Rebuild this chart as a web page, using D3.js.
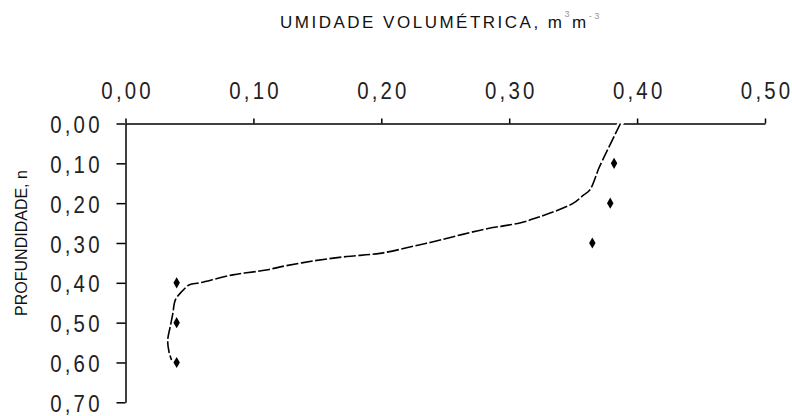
<!DOCTYPE html>
<html>
<head>
<meta charset="utf-8">
<script src="https://cdn.jsdelivr.net/npm/d3@7"></script>
<style>
  html, body { margin: 0; padding: 0; background: #fff; }
  svg { display: block; }
  .tick text { font-family: "Liberation Sans", Arial, sans-serif; font-size: 24px; fill: #222; }
  .axis path, .axis line { stroke: #000; stroke-width: 1.5; }
</style>
</head>
<body>
<svg id="chart" width="792" height="416"></svg>
<script>
// Volumetric water content (m3/m3) versus depth (m)
const xTicks = [0, 0.1, 0.2, 0.3, 0.4, 0.5];
const yTicks = [0, 0.1, 0.2, 0.3, 0.4, 0.5, 0.6, 0.7];

// measured points
const obsDepth = [0.10, 0.20, 0.30, 0.40, 0.50, 0.60];
const obsTheta = [0.382, 0.379, 0.365, 0.040, 0.040, 0.040];

// fitted profile
const fitDepth = [0.000, 0.092, 0.113, 0.167, 0.180, 0.196, 0.207, 0.234, 0.249, 0.266, 0.298, 0.303, 0.326, 0.334, 0.345, 0.360, 0.368, 0.380, 0.400, 0.405, 0.422, 0.443, 0.477, 0.510, 0.544, 0.573, 0.594];
const fitTheta = [0.387, 0.373, 0.370, 0.363, 0.358, 0.352, 0.346, 0.324, 0.309, 0.280, 0.239, 0.232, 0.199, 0.173, 0.147, 0.121, 0.110, 0.084, 0.058, 0.050, 0.044, 0.039, 0.037, 0.035, 0.033, 0.034, 0.036];

const fmt = d => d3.format(".2f")(d).replace(".", ",");

const svg = d3.select("#chart");
const margin = { left: 125.5, right: 27, top: 123.5, bottom: 13.7 };
const W = 792, H = 416;
const squeeze = 0.85;   // narrow the tick-label glyphs
const labelLen = 58;    // spread tick-label glyphs over this width (before squeeze)

const x = d3.scaleLinear().domain([0, 0.5]).range([margin.left, W - margin.right]);
const y = d3.scaleLinear().domain([0, 0.7]).range([margin.top, H - margin.bottom]);

// top axis
const gx = svg.append("g").attr("class", "axis")
  .attr("transform", `translate(0,${y(0)})`)
  .call(d3.axisTop(x).tickValues(xTicks).tickFormat(fmt).tickSize(5).tickPadding(20).tickSizeOuter(0));
gx.selectAll(".tick text")
  .attr("transform", `scale(${squeeze},1)`)
  .attr("textLength", labelLen).attr("lengthAdjust", "spacing");

// left axis
const gy = svg.append("g").attr("class", "axis")
  .attr("transform", `translate(${x(0)},0)`)
  .call(d3.axisLeft(y).tickValues(yTicks).tickFormat(fmt).tickSize(9).tickPadding(12).tickSizeOuter(0));
gy.selectAll(".tick text")
  .attr("transform", `scale(${squeeze},1)`)
  .attr("x", -26 / squeeze)
  .attr("dy", "0.38em")
  .attr("textLength", labelLen).attr("lengthAdjust", "spacing");

// axis titles
const title = svg.append("text")
  .attr("x", 280).attr("y", 28)
  .attr("font-family", "Liberation Sans, Arial, sans-serif")
  .attr("font-size", 17).attr("letter-spacing", "2.5px").attr("fill", "#111");
title.append("tspan").text("UMIDADE VOLUMÉTRICA, m");
title.append("tspan").attr("dy", -11).attr("font-size", 9).attr("fill", "#999").text("3");
title.append("tspan").attr("dy", 11).text("m");
title.append("tspan").attr("dy", -9).attr("font-size", 9).attr("fill", "#999").text("-3");

svg.append("text")
  .attr("transform", `translate(27,243) rotate(-90)`)
  .attr("text-anchor", "middle")
  .attr("font-family", "Liberation Sans, Arial, sans-serif")
  .attr("font-size", 16).attr("fill", "#111")
  .text("PROFUNDIDADE, n");

// fitted curve
const fit = fitDepth.map((d, i) => ({ d, t: fitTheta[i] }));
const line = d3.line().x(p => x(p.t)).y(p => y(p.d)).curve(d3.curveCatmullRom);

// white halo where the curve meets the top axis
svg.append("path").datum(fit.slice(0, 3))
  .attr("d", line).attr("fill", "none")
  .attr("stroke", "#fff").attr("stroke-width", 6).attr("stroke-linecap", "square");

svg.append("path").datum(fit)
  .attr("d", line).attr("fill", "none")
  .attr("stroke", "#000").attr("stroke-width", 1.6)
  .attr("stroke-dasharray", "12,2.5");

// observed points
svg.append("g").selectAll("path")
  .data(obsDepth.map((d, i) => ({ d, t: obsTheta[i] })))
  .join("path")
  .attr("transform", p => `translate(${x(p.t)},${y(p.d)})`)
  .attr("d", d3.symbol(d3.symbolDiamond, 36))
  .attr("fill", "#000");
</script>
</body>
</html>
